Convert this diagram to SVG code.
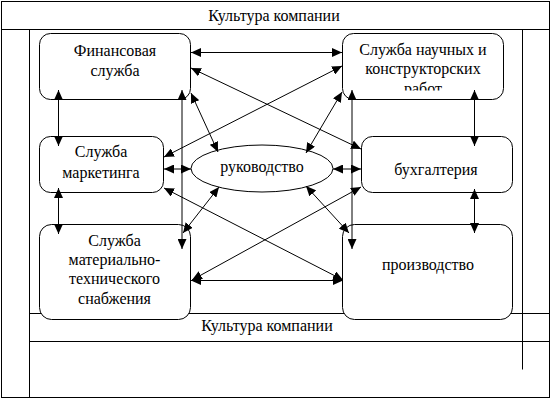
<svg xmlns="http://www.w3.org/2000/svg" width="553" height="401" viewBox="0 0 553 401">
<style>
.fr{fill:none;stroke:#000;stroke-width:1}
.bx{fill:#fff;stroke:#000;stroke-width:1}
.t{font-family:"Liberation Serif","Times New Roman",serif;font-size:16px;fill:#000;text-anchor:middle}
.c{fill:none;stroke:#000;stroke-width:1;marker-start:url(#ah);marker-end:url(#ah)}
</style>
<defs>
<marker id="ah" markerUnits="userSpaceOnUse" markerWidth="11" markerHeight="9" refX="10" refY="4.5" orient="auto-start-reverse">
<path d="M0,0 L10,4.5 L0,9 z" fill="#000"/>
</marker>
<clipPath id="nirclip"><rect x="342" y="33" width="162" height="57.5"/></clipPath>
</defs>
<rect width="553" height="401" fill="#fff"/>
<g id="frame">
<rect class="fr" x="1.5" y="1.5" width="548" height="396"/>
<line class="fr" x1="1.5" y1="29.5" x2="549.5" y2="29.5"/>
<line class="fr" x1="29.5" y1="29.5" x2="29.5" y2="397.5"/>
<line class="fr" x1="522.5" y1="29.5" x2="522.5" y2="369.5"/>
<line class="fr" x1="29.5" y1="313.5" x2="549.5" y2="313.5"/>
<line class="fr" x1="29.5" y1="341.5" x2="549.5" y2="341.5"/>
<text class="t" x="274" y="21">Культура компании</text>
<text class="t" x="267" y="331">Культура компании</text>
</g>
<g id="fin">
<rect class="bx" x="39.5" y="33.5" width="151" height="66" rx="11"/>
<text class="t" x="115" y="56">Финансовая</text>
<text class="t" x="115" y="76">служба</text>
</g>
<g id="nir">
<rect class="bx" x="342.5" y="33.5" width="161" height="66" rx="11"/>
<text class="t" x="423" y="55">Служба научных и</text>
<text class="t" x="423" y="74">конструкторских</text>
<text class="t" x="423" y="94" clip-path="url(#nirclip)">работ</text>
</g>
<g id="marketing">
<rect class="bx" x="39.5" y="136.5" width="124" height="56" rx="11"/>
<text class="t" x="101" y="157">Служба</text>
<text class="t" x="101" y="177.5">маркетинга</text>
</g>
<g id="rukovodstvo">
<ellipse class="bx" cx="262" cy="168.5" rx="71" ry="23.5"/>
<text class="t" x="262" y="172">руководство</text>
</g>
<g id="buh">
<rect class="bx" x="361.5" y="136.5" width="151" height="56" rx="11"/>
<text class="t" x="436" y="175">бухгалтерия</text>
</g>
<g id="mts">
<rect class="bx" x="39.5" y="224.5" width="151" height="95" rx="12"/>
<text class="t" x="114.5" y="246">Служба</text>
<text class="t" x="114.5" y="265">материально-</text>
<text class="t" x="114.5" y="284">технического</text>
<text class="t" x="114.5" y="304">снабжения</text>
</g>
<g id="proizv">
<rect class="bx" x="342.5" y="224.5" width="170" height="95" rx="12"/>
<text class="t" x="428" y="270">производство</text>
</g>
<g id="connectors">
<line class="c" x1="191" y1="52.5" x2="342" y2="52.5"/>
<line class="c" x1="191" y1="68" x2="361" y2="149"/>
<line class="c" x1="164" y1="157" x2="342" y2="66"/>
<line class="c" x1="191" y1="93" x2="218" y2="152"/>
<line class="c" x1="342" y1="92" x2="306" y2="153"/>
<line class="c" x1="164" y1="169" x2="191" y2="169"/>
<line class="c" x1="333" y1="169" x2="361" y2="169"/>
<line class="c" x1="58.5" y1="90" x2="58.5" y2="146"/>
<line class="c" x1="58.5" y1="188" x2="58.5" y2="234"/>
<line class="c" x1="182" y1="90" x2="182" y2="249"/>
<line class="c" x1="352" y1="90" x2="352" y2="249"/>
<line class="c" x1="474.5" y1="90" x2="474.5" y2="146"/>
<line class="c" x1="474.5" y1="189" x2="474.5" y2="233"/>
<line class="c" x1="164" y1="188" x2="343" y2="280"/>
<line class="c" x1="192" y1="280" x2="361" y2="187"/>
<line class="c" x1="191" y1="280.5" x2="343" y2="280.5"/>
<line class="c" x1="219" y1="187" x2="183" y2="233"/>
<line class="c" x1="306" y1="186" x2="349" y2="233"/>
</g>
</svg>
